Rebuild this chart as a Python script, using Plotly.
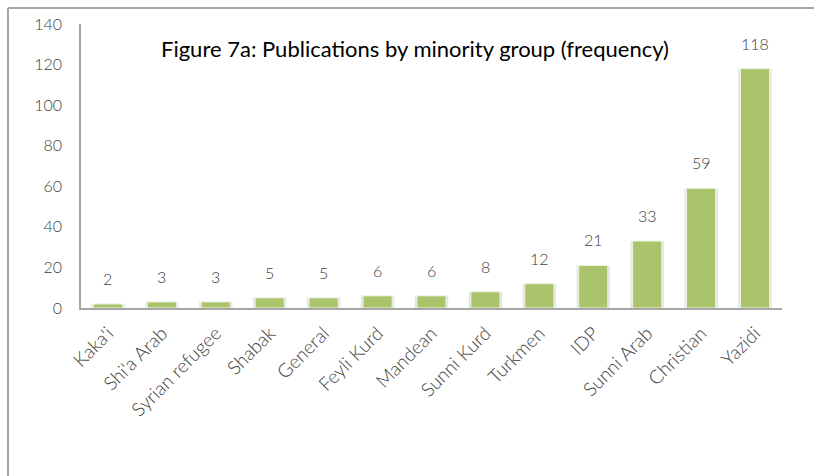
import plotly.graph_objects as go

categories = ["Kaka'i", "Shi'a Arab", "Syrian refugee", "Shabak", "General", "Feyli Kurd",
              "Mandean", "Sunni Kurd", "Turkmen", "IDP", "Sunni Arab", "Christian", "Yazidi"]
values = [2, 3, 3, 5, 5, 6, 6, 8, 12, 21, 33, 59, 118]
y_ticks = [0, 20, 40, 60, 80, 100, 120, 140]
title_text = "Figure 7a: Publications by minority group (frequency)"

W, H = 814, 476
L, R, T, B = 81, 32, 24, 168
pw, ph = W - L - R, H - T - B

def px_x(p):
    return (p - L) / pw

def px_y(p):
    return (H - B - p) / ph

fig = go.Figure()
# soft shadow behind bars
fig.add_trace(go.Bar(x=categories, y=values, width=0.62,
                     marker=dict(color="rgba(0,0,0,0.10)", line=dict(width=0)),
                     hoverinfo="skip", showlegend=False))
fig.add_trace(go.Bar(x=categories, y=values, width=0.54,
                     marker=dict(color="#aac46c", line=dict(color="#eef3e2", width=1)),
                     showlegend=False))

for c, v in zip(categories, values):
    fig.add_annotation(x=c, y=v, text=str(v), showarrow=False, yanchor="bottom",
                       yshift=14, font=dict(family="Lato", size=16, color="#404040", weight=300))

fig.add_annotation(x=px_x(414.5), y=px_y(48), xref="paper", yref="paper", text=title_text,
                   showarrow=False, xanchor="center", yanchor="middle",
                   font=dict(family="Lato", size=22, color="#000000"))

line_col = "#a6a6a6"
fig.add_shape(type="line", xref="paper", yref="paper", x0=px_x(8), x1=px_x(814),
              y0=px_y(8), y1=px_y(8), line=dict(color=line_col, width=2))
fig.add_shape(type="line", xref="paper", yref="paper", x0=px_x(8), x1=px_x(8),
              y0=px_y(8), y1=px_y(476), line=dict(color=line_col, width=2))

fig.update_layout(
    width=W, height=H, margin=dict(l=L, r=R, t=T, b=B),
    paper_bgcolor="white", plot_bgcolor="white", barmode="overlay",
    xaxis=dict(showline=True, linecolor=line_col, linewidth=1.5, tickangle=-45,
               showgrid=False, ticks="", ticklabelstandoff=5,
               tickfont=dict(family="Lato", size=19, color="#404040", weight=300)),
    yaxis=dict(range=[0, 140], tickvals=y_ticks, showline=True, linecolor=line_col,
               linewidth=1.5, showgrid=False, zeroline=False, ticks="",
               ticklabelstandoff=14,
               tickfont=dict(family="Lato", size=16, color="#404040", weight=300)),
)

fig.write_html("out.html")
